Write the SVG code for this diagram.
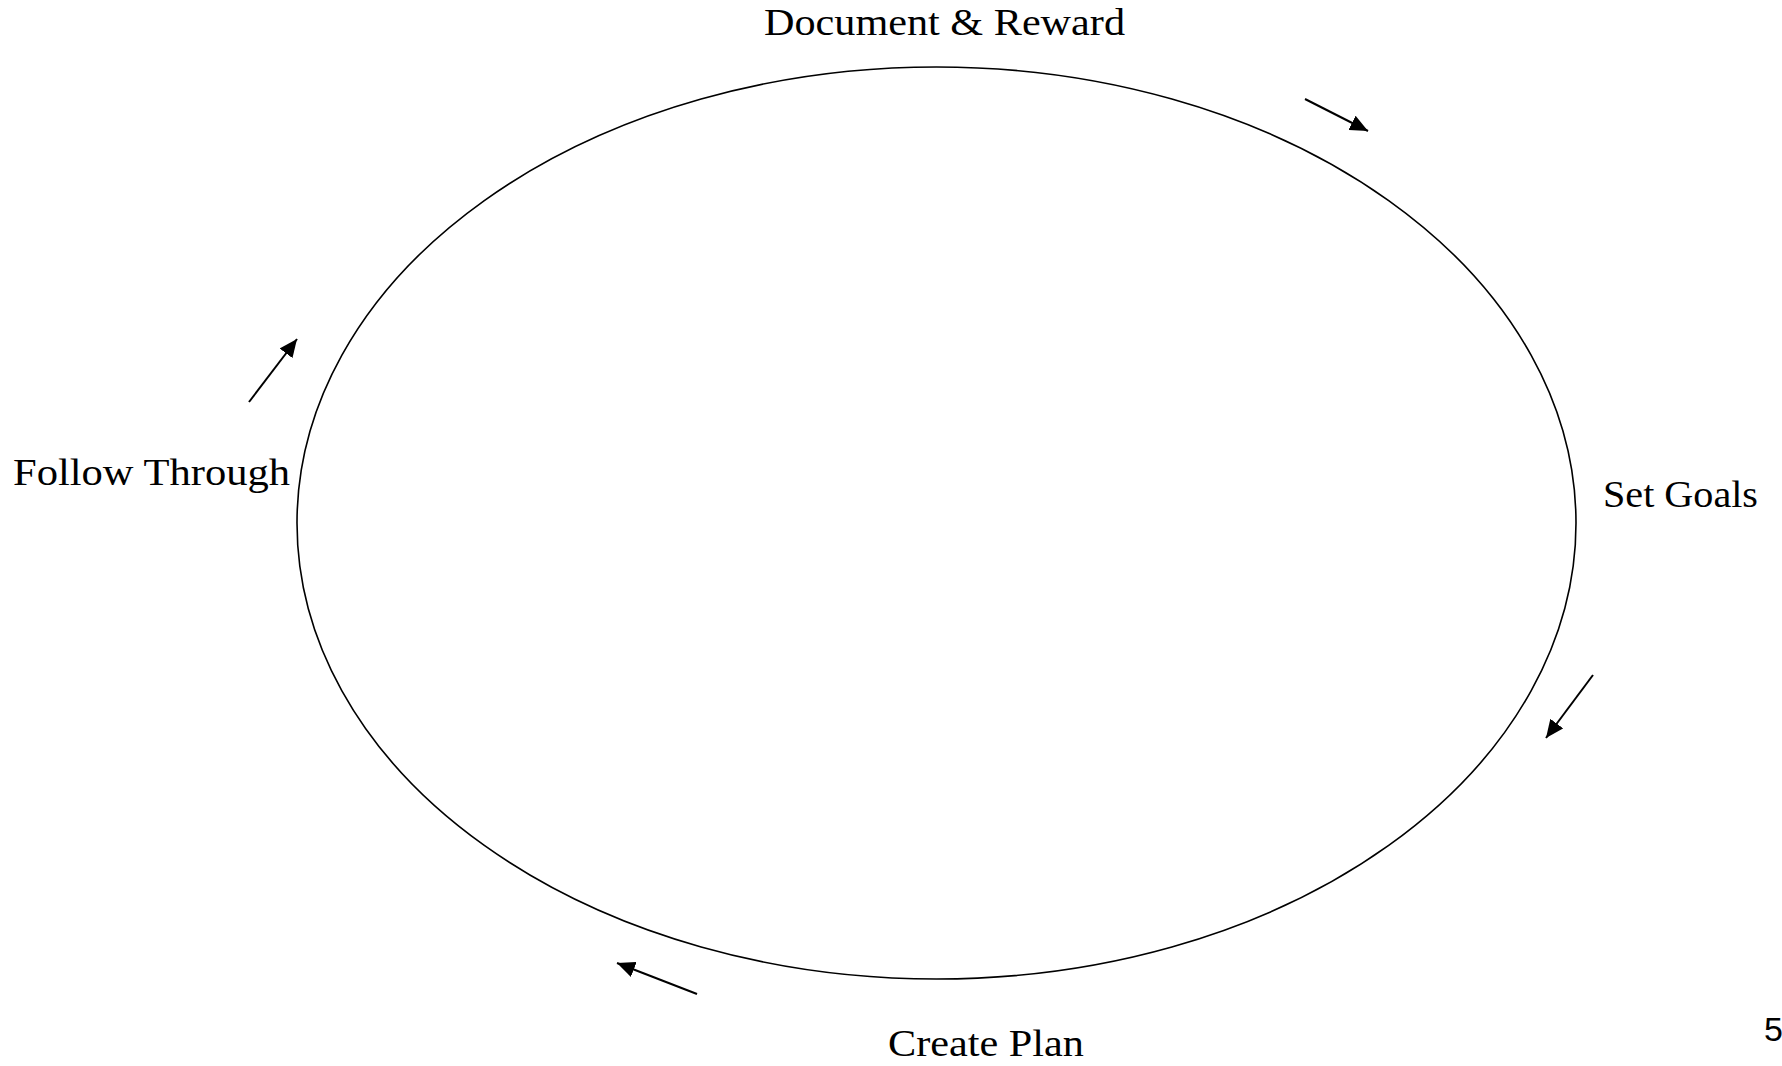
<svg xmlns="http://www.w3.org/2000/svg" width="1782" height="1066" viewBox="0 0 1782 1066">
<style>
.lbl{font-family:"Liberation Serif","DejaVu Serif",serif;font-size:37px;fill:#000}
.conn{stroke:#000;stroke-width:2;fill:none}
</style>
<defs>
<marker id="ah" markerUnits="userSpaceOnUse" markerWidth="20" markerHeight="16" refX="18" refY="8" orient="auto">
<path d="M0,0 L18,8 L0,16 Z" fill="#000"/>
</marker>
</defs>
<rect width="1782" height="1066" fill="#fff"/>
<g id="cycle">
<ellipse cx="936.5" cy="523" rx="639.5" ry="456" fill="none" stroke="#000" stroke-width="1.6"/>
</g>
<g id="node-document">
<text class="lbl" x="764" y="35" textLength="361" lengthAdjust="spacingAndGlyphs">Document &amp; Reward</text>
</g>
<g id="node-setgoals">
<text class="lbl" x="1603" y="507" textLength="155" lengthAdjust="spacingAndGlyphs">Set Goals</text>
</g>
<g id="node-createplan">
<text class="lbl" x="888" y="1056" textLength="196" lengthAdjust="spacingAndGlyphs">Create Plan</text>
</g>
<g id="node-follow">
<text class="lbl" x="13" y="485" textLength="277" lengthAdjust="spacingAndGlyphs">Follow Through</text>
</g>
<g id="pagenum">
<text x="1764" y="1041" style="font-family:'Liberation Sans',Arial,sans-serif;font-size:34px;fill:#000">5</text>
</g>
<g id="connectors">
<line class="conn" x1="1305" y1="99" x2="1368" y2="131" marker-end="url(#ah)"/>
<line class="conn" x1="1593" y1="675" x2="1546" y2="738" marker-end="url(#ah)"/>
<line class="conn" x1="697" y1="994" x2="617" y2="963" marker-end="url(#ah)"/>
<line class="conn" x1="249" y1="402" x2="297" y2="339" marker-end="url(#ah)"/>
</g>
</svg>
